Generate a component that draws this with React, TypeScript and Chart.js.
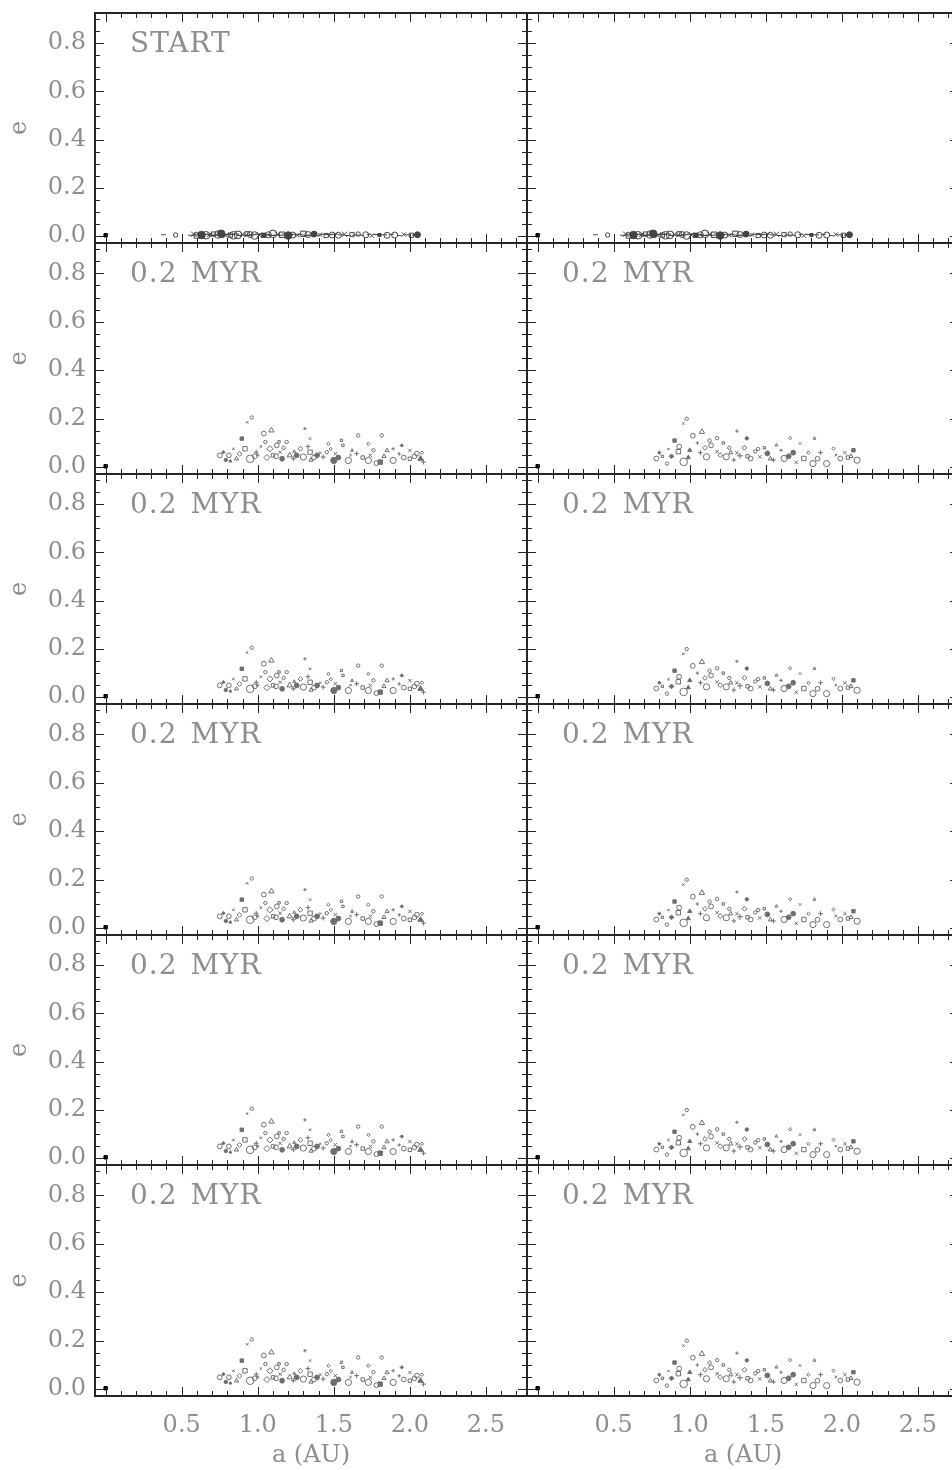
import React, { useEffect, useRef } from "react";
import { Chart, registerables } from "chart.js";

Chart.register(...registerables);

// ---- axes ----
const xTickValues = [0.5, 1.0, 1.5, 2.0, 2.5];
const yTickValues = [0.0, 0.2, 0.4, 0.6, 0.8];
const xMin = -0.07;
const xMax = 2.77;
const yMin = -0.028;
const yMax = 0.925;

// ---- panel titles (row by row, left / right) ----
const panelTitlesLeft = ["START", "0.2 MYR", "0.2 MYR", "0.2 MYR", "0.2 MYR", "0.2 MYR"];
const panelTitlesRight = ["", "0.2 MYR", "0.2 MYR", "0.2 MYR", "0.2 MYR", "0.2 MYR"];

// ---- central body ----
const starA = [0.0];
const starE = [0.004];

// ---- initial planetesimal disk ----
const startA = [
  0.38, 0.46, 0.56, 0.58, 0.59, 0.60, 0.62, 0.63, 0.64, 0.66,
  0.67, 0.68, 0.70, 0.71, 0.72, 0.74, 0.75, 0.76, 0.78, 0.79,
  0.80, 0.82, 0.83, 0.84, 0.86, 0.87, 0.88, 0.90, 0.91, 0.93,
  0.94, 0.95, 0.97, 0.98, 1.00, 1.01, 1.03, 1.04, 1.06, 1.07,
  1.09, 1.10, 1.12, 1.13, 1.15, 1.16, 1.18, 1.20, 1.21, 1.23,
  1.25, 1.26, 1.28, 1.30, 1.32, 1.33, 1.35, 1.37, 1.39, 1.41,
  1.43, 1.45, 1.47, 1.49, 1.51, 1.53, 1.55, 1.57, 1.59, 1.62,
  1.64, 1.66, 1.68, 1.71, 1.73, 1.75, 1.78, 1.80, 1.83, 1.85,
  1.88, 1.90, 1.93, 1.96, 1.98, 2.01, 2.03, 2.05,
];
const startE = [
  0.006, 0.005, 0.004, 0.008, 0.006, 0.003, 0.009, 0.005, 0.007, 0.004,
  0.008, 0.006, 0.003, 0.009, 0.005, 0.007, 0.004, 0.010, 0.006, 0.003,
  0.008, 0.005, 0.007, 0.004, 0.009, 0.006, 0.003, 0.008, 0.005, 0.010,
  0.004, 0.007, 0.006, 0.003, 0.009, 0.005, 0.008, 0.004, 0.007, 0.006,
  0.003, 0.010, 0.005, 0.008, 0.004, 0.006, 0.009, 0.003, 0.007, 0.005,
  0.008, 0.004, 0.006, 0.010, 0.003, 0.007, 0.005, 0.009, 0.004, 0.006,
  0.008, 0.003, 0.007, 0.005, 0.009, 0.004, 0.006, 0.008, 0.003, 0.007,
  0.005, 0.009, 0.004, 0.006, 0.008, 0.003, 0.007, 0.005, 0.006, 0.004,
  0.008, 0.005, 0.003, 0.007, 0.006, 0.004, 0.005, 0.006,
];
const startMass = [
  1, 1, 2, 3, 2, 3, 2, 3, 2, 3,
  3, 2, 3, 2, 3, 3, 2, 3, 2, 3,
  3, 2, 3, 3, 2, 3, 2, 3, 3, 2,
  3, 2, 3, 3, 2, 3, 3, 2, 3, 2,
  3, 3, 2, 3, 2, 3, 2, 3, 2, 2,
  3, 2, 2, 3, 2, 2, 3, 2, 2, 2,
  2, 2, 3, 2, 2, 2, 2, 3, 2, 2,
  2, 1, 2, 2, 1, 2, 2, 1, 2, 2,
  1, 2, 1, 2, 1, 2, 1, 2,
];

// ---- disk after 0.2 Myr, first run ----
const leftA = [
  0.96, 0.93, 0.895, 1.04, 1.09, 1.31, 0.75, 0.774, 0.81, 0.84,
  0.916, 0.95, 0.82, 0.99, 1.05, 1.08, 1.125, 1.147, 1.10, 1.19,
  1.21, 1.234, 1.256, 1.28, 1.30, 1.344, 1.344, 1.39, 1.35, 1.43,
  1.454, 1.465, 1.50, 1.51, 1.55, 1.596, 1.62, 1.65, 1.66, 1.727,
  1.727, 1.74, 1.805, 1.815, 1.85, 1.89, 1.89, 1.947, 1.96, 2.00,
  2.00, 2.046, 2.07, 2.09, 1.17, 1.06, 1.12, 1.41, 1.56, 1.78,
  0.86, 1.00, 0.79, 0.88, 0.98, 1.02, 1.14, 1.16, 1.24, 1.33,
  1.37, 1.48, 1.53, 1.61, 1.69, 1.76, 1.83, 1.93, 2.03, 2.08,
];
const leftE = [
  0.205, 0.185, 0.118, 0.139, 0.152, 0.159, 0.049, 0.062, 0.049, 0.076,
  0.076, 0.035, 0.025, 0.062, 0.104, 0.076, 0.090, 0.062, 0.049, 0.104,
  0.049, 0.035, 0.049, 0.076, 0.042, 0.118, 0.062, 0.049, 0.030, 0.042,
  0.062, 0.097, 0.028, 0.056, 0.111, 0.028, 0.069, 0.056, 0.131, 0.097,
  0.028, 0.049, 0.021, 0.131, 0.069, 0.076, 0.028, 0.090, 0.040, 0.069,
  0.035, 0.056, 0.035, 0.021, 0.080, 0.040, 0.045, 0.060, 0.090, 0.017,
  0.035, 0.050, 0.030, 0.055, 0.045, 0.085, 0.105, 0.035, 0.065, 0.085,
  0.040, 0.075, 0.040, 0.050, 0.040, 0.070, 0.045, 0.055, 0.045, 0.060,
];
const leftMass = [
  1, 1, 2, 2, 3, 1, 2, 1, 2, 1,
  3, 4, 1, 2, 1, 3, 2, 2, 2, 1,
  3, 2, 2, 2, 3, 1, 3, 2, 2, 2,
  1, 1, 3, 2, 1, 3, 1, 2, 1, 1,
  3, 2, 3, 1, 2, 1, 3, 1, 2, 2,
  2, 2, 3, 2, 1, 3, 2, 1, 1, 2,
  2, 1, 1, 2, 2, 1, 1, 2, 1, 2,
  2, 1, 2, 1, 2, 1, 2, 1, 2, 1,
];

// ---- disk after 0.2 Myr, second run ----
const rightA = [
  0.98, 0.958, 0.90, 1.02, 1.08, 1.31, 0.78, 0.80, 0.85, 0.86,
  0.925, 0.96, 1.00, 1.05, 1.11, 1.10, 1.14, 1.18, 1.22, 1.24,
  1.27, 1.33, 1.375, 1.36, 1.40, 1.46, 1.49, 1.51, 1.57, 1.55,
  1.62, 1.66, 1.68, 1.725, 1.75, 1.81, 1.82, 1.86, 1.90, 1.945,
  1.99, 2.02, 2.076, 2.10, 2.06, 1.29, 1.18, 0.88, 1.43, 1.70,
  0.82, 0.93, 0.99, 1.07, 1.13, 1.20, 1.26, 1.31, 1.38, 1.45,
  1.53, 1.60, 1.65, 1.78, 1.84, 1.96, 2.04,
];
const rightE = [
  0.200, 0.180, 0.110, 0.130, 0.146, 0.149, 0.036, 0.060, 0.015, 0.075,
  0.064, 0.022, 0.070, 0.100, 0.043, 0.080, 0.090, 0.064, 0.100, 0.043,
  0.060, 0.047, 0.119, 0.080, 0.036, 0.043, 0.080, 0.057, 0.091, 0.030,
  0.036, 0.120, 0.060, 0.098, 0.036, 0.015, 0.119, 0.060, 0.015, 0.077,
  0.036, 0.060, 0.070, 0.029, 0.045, 0.030, 0.120, 0.045, 0.065, 0.020,
  0.045, 0.085, 0.040, 0.060, 0.110, 0.050, 0.080, 0.060, 0.045, 0.075,
  0.035, 0.070, 0.045, 0.060, 0.035, 0.050, 0.040,
];
const rightMass = [
  1, 1, 2, 2, 3, 1, 2, 1, 1, 1,
  3, 4, 2, 1, 3, 2, 2, 2, 1, 3,
  2, 3, 1, 2, 2, 2, 1, 2, 1, 2,
  3, 1, 2, 1, 3, 3, 1, 2, 3, 1,
  2, 2, 2, 3, 2, 2, 1, 2, 1, 2,
  1, 2, 2, 2, 1, 2, 1, 2, 2, 1,
  2, 1, 2, 1, 2, 1, 2,
];

// ---- layout (CSS pixels) ----
const PAGE_W = 952;
const PAGE_H = 1470;
const rowTops = [13, 243, 474, 704, 935, 1165, 1396];
const colLefts = [95, 527];
const PLOT_W = 432;
const AXIS_W = 95;
const PAD = 6;

const TEXT_GREY = "#8e8e8e";
const MARK_GREY = "#6e6e6e";
const START_GREY = "#454545";
const FRAME = "#262626";
const FONT_FAMILY = '"DejaVu Serif", serif';

const evolvedSymbols = ["circle", "crossRot", "rect", "circle", "triangle", "cross", "circle", "rectRot"];
const startSymbols = ["line", "circle", "line", "crossRot", "line", "rect", "line", "circle"];

function diskDataset(
  a: number[],
  e: number[],
  mass: number[],
  symbols: string[],
  base: number,
  scale: number,
  color: string
) {
  return {
    data: a.map((v, i) => ({ x: v, y: e[i] })),
    pointStyle: a.map((_, i) => symbols[i % symbols.length]),
    pointRadius: mass.map((m) => base + m * scale),
    borderColor: color,
    backgroundColor: a.map((_, i) => (i % 5 === 2 ? color : "rgba(0,0,0,0)")),
    borderWidth: 1,
    showLine: false,
  };
}

function frameAndLabel(label: string) {
  return {
    id: "frameAndLabel",
    afterDraw(chart: any) {
      const { ctx, chartArea: ca } = chart;
      const xs = chart.scales.x;
      const ys = chart.scales.y;
      ctx.save();
      ctx.strokeStyle = FRAME;
      ctx.lineWidth = 1;
      ctx.beginPath();
      // a ticks every 0.1, major every 0.5, on bottom and top edges
      for (let i = 0; i <= 27; i++) {
        const px = Math.round(xs.getPixelForValue(i / 10)) + 0.5;
        const len = i % 5 === 0 ? 9 : 5;
        ctx.moveTo(px, ca.bottom);
        ctx.lineTo(px, ca.bottom - len);
        ctx.moveTo(px, ca.top);
        ctx.lineTo(px, ca.top + len);
      }
      // e ticks every 0.05, major every 0.2, on left and right edges
      for (let i = 0; i <= 18; i++) {
        const py = Math.round(ys.getPixelForValue(i * 0.05)) + 0.5;
        const len = i % 4 === 0 ? 9 : 5;
        ctx.moveTo(ca.left, py);
        ctx.lineTo(ca.left + len, py);
        ctx.moveTo(ca.right, py);
        ctx.lineTo(ca.right - len, py);
      }
      ctx.stroke();
      ctx.lineWidth = 2;
      ctx.strokeRect(ca.left, ca.top, ca.right - ca.left, ca.bottom - ca.top);
      if (label) {
        ctx.fillStyle = TEXT_GREY;
        ctx.font = `28px ${FONT_FAMILY}`;
        (ctx as any).letterSpacing = "1px";
        (ctx as any).wordSpacing = "3px";
        ctx.textAlign = "left";
        ctx.textBaseline = "alphabetic";
        ctx.fillText(label, xs.getPixelForValue(0.16), ys.getPixelForValue(0.765));
      }
      ctx.restore();
    },
  };
}

function Panel({ row, col }: { row: number; col: number }) {
  const ref = useRef<HTMLCanvasElement>(null);
  const isLeft = col === 0;
  const isBottom = row === 5;
  const top = rowTops[row];
  const bottom = rowTops[row + 1];
  const left = colLefts[col];
  const cLeft = isLeft ? left - AXIS_W : left - PAD;
  const cTop = top - PAD;
  const cRight = left + PLOT_W + PAD;
  const cBottom = isBottom ? PAGE_H : bottom + PAD;
  const w = cRight - cLeft;
  const h = cBottom - cTop;
  const label = isLeft ? panelTitlesLeft[row] : panelTitlesRight[row];

  useEffect(() => {
    const canvas = ref.current;
    if (!canvas) return;
    const disk =
      row === 0
        ? diskDataset(startA, startE, startMass, startSymbols, 1.4, 0.8, START_GREY)
        : isLeft
        ? diskDataset(leftA, leftE, leftMass, evolvedSymbols, 1.0, 0.7, MARK_GREY)
        : diskDataset(rightA, rightE, rightMass, evolvedSymbols, 1.0, 0.7, MARK_GREY);
    const star = {
      data: starA.map((v, i) => ({ x: v, y: starE[i] })),
      pointStyle: "rect",
      pointRadius: 2.4,
      borderColor: "#000",
      backgroundColor: "#000",
      borderWidth: 1,
    };
    const tickFont = { family: FONT_FAMILY, size: 24 };
    const chart = new Chart(canvas, {
      type: "scatter",
      data: { datasets: [disk as any, star as any] },
      options: {
        animation: false,
        responsive: false,
        devicePixelRatio: 1,
        events: [],
        layout: {
          padding: { left: isLeft ? 0 : PAD, right: PAD, top: PAD, bottom: isBottom ? 0 : PAD },
        },
        plugins: { legend: { display: false }, tooltip: { enabled: false } },
        scales: {
          x: {
            type: "linear",
            min: xMin,
            max: xMax,
            display: isBottom,
            afterBuildTicks: (s: any) => {
              s.ticks = xTickValues.map((v) => ({ value: v }));
            },
            afterFit: (s: any) => {
              s.height = isBottom ? PAGE_H - bottom : 0;
              s.paddingLeft = 0;
              s.paddingRight = 0;
            },
            grid: { display: false, drawTicks: false },
            border: { display: false },
            ticks: {
              padding: 15,
              color: TEXT_GREY,
              font: tickFont,
              maxRotation: 0,
              autoSkip: false,
              callback: (v: any) => Number(v).toFixed(1),
            },
            title: {
              display: true,
              text: "a (AU)",
              color: TEXT_GREY,
              font: tickFont,
              padding: { top: 0, bottom: 0 },
            },
          },
          y: {
            type: "linear",
            min: yMin,
            max: yMax,
            display: isLeft,
            afterBuildTicks: (s: any) => {
              s.ticks = yTickValues.map((v) => ({ value: v }));
            },
            afterFit: (s: any) => {
              s.width = isLeft ? AXIS_W : 0;
              s.paddingTop = 0;
              s.paddingBottom = 0;
            },
            grid: { display: false, drawTicks: false },
            border: { display: false },
            ticks: {
              padding: 9,
              color: TEXT_GREY,
              font: tickFont,
              autoSkip: false,
              callback: (v: any) => Number(v).toFixed(1),
            },
            title: {
              display: true,
              text: "e",
              color: TEXT_GREY,
              font: tickFont,
              padding: { top: 5, bottom: 0 },
            },
          },
        },
      },
      plugins: [frameAndLabel(label)],
    } as any);
    return () => chart.destroy();
  }, [row, col]);

  return (
    <canvas
      ref={ref}
      width={w}
      height={h}
      style={{ position: "absolute", left: cLeft, top: cTop, width: w, height: h }}
    />
  );
}

export default function App() {
  const panels: React.ReactNode[] = [];
  for (let r = 0; r < 6; r++) {
    for (let c = 0; c < 2; c++) {
      panels.push(<Panel key={`${r}-${c}`} row={r} col={c} />);
    }
  }
  return (
    <div
      style={{
        position: "absolute",
        left: 0,
        top: 0,
        width: PAGE_W,
        height: PAGE_H,
        overflow: "hidden",
        background: "#fff",
      }}
    >
      {panels}
    </div>
  );
}
